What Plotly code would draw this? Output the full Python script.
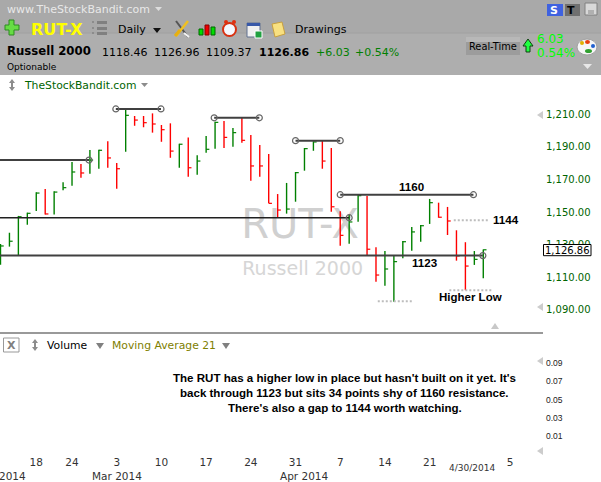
import plotly.graph_objects as go

W, H = 601, 482

# ---- data ----
highs = [1130.4,1137.3,1147.6,1149.6,1162.1,1164.1,1162.7,1168.2,1180.6,1179.4,1188.0,1188.1,1193.3,1180.0,1212.9,1208.8,1208.8,1210.4,1203.3,1204.3,1191.8,1195.7,1184.7,1196.5,1205.3,1205.7,1201.4,1207.7,1197.1,1191.0,1185.5,1161.0,1167.8,1174.5,1189.2,1193.3,1194.1,1189.2,1150.4,1148.2,1160.4,1159.8,1128.4,1126.1,1123.3,1132.2,1140.8,1142.0,1158.0,1155.7,1153.1,1138.8,1131.5,1126.1,1126.96]
lows = [1117.7,1128.8,1123.5,1142.2,1150.6,1148.4,1148.4,1163.3,1166.1,1171.0,1173.5,1176.5,1177.1,1164.3,1186.9,1202.8,1201.9,1198.6,1193.0,1183.2,1177.1,1171.6,1172.8,1186.3,1188.8,1189.2,1190.0,1192.4,1169.2,1171.6,1155.3,1146.8,1149.0,1156.3,1175.3,1187.5,1176.5,1150.2,1129.4,1130.6,1144.1,1123.5,1107.3,1104.9,1095.1,1121.7,1126.3,1131.8,1142.7,1146.5,1135.9,1120.2,1102.1,1117.6,1109.37]
closes = [1129.2,1132.1,1147.1,1149.2,1161.6,1148.8,1162.2,1164.9,1174.5,1173.9,1181.8,1187.8,1183.1,1176.5,1209.2,1206.3,1204.7,1203.9,1200.4,1187.3,1191.5,1177.1,1181.2,1188.4,1204.9,1195.7,1198.6,1193.9,1178.2,1178.2,1155.3,1151.2,1151.8,1174.1,1188.8,1192.9,1181.2,1153.2,1135.7,1143.9,1160.0,1127.2,1111.4,1115.1,1119.6,1131.8,1137.8,1141.6,1155.7,1146.8,1144.5,1123.1,1116.9,1121.0,1126.86]
direction = "GGGGGRGGGRGGRRGRRRRRGRGGGRGRRRRRGGGGRRRGGRRGGGGGGRRRRGG"

price_ticks = [1210, 1190, 1170, 1150, 1130, 1110, 1090]
volume_ticks = [0.09, 0.07, 0.05, 0.03, 0.01]
date_tick_pos = [4, 8, 13, 18, 23, 28, 33, 38, 43, 48, 57]
date_tick_txt = ["18", "24", "3", "10", "17", "24", "31", "7", "14", "21", "5"]
month_pos = [13, 34]
month_txt = ["Mar 2014", "Apr 2014"]

# level drawings: start bar, end bar, price
hold_lines = [(-1, 9.9, 1181.8), (12.9, 17.95, 1213.1), (23.9, 28.95, 1207.7),
              (33.0, 38.0, 1193.7), (38.0, 52.9, 1160.6), (-1, 53.95, 1123.3)]
thin_line = (-1, 39.0, 1146.5)
dot_lines = [(42.2, 46.1, 1095.3), (50.7, 54.6, 1144.9), (50.2, 55.0, 1102.1)]
circle_starts = [12.9, 23.9, 33.0, 38.0]
circle_ends = [9.9, 17.95, 28.95, 38.0, 52.9, 39.0, 53.95]
circle_end_lvls = [1181.8, 1213.1, 1207.7, 1193.7, 1160.6, 1146.5, 1123.3]
circle_start_lvls = [1213.1, 1207.7, 1193.7, 1160.6]

BODY = "DejaVu Sans"
ARIAL = "Liberation Sans"

def X(p): return p / W
def Y(p): return 1 - p / H

fig = go.Figure()

# watermark, under the bars
fig.add_trace(go.Scatter(x=[33.5], y=[1140.2], mode="text", text=["RUT-X"], xaxis="x", yaxis="y",
                         textfont=dict(family=BODY, size=40, color="#d0d0d0"), textposition="middle center", hoverinfo="skip"))
fig.add_trace(go.Scatter(x=[33.8], y=[1114.5], mode="text", text=["Russell 2000"], xaxis="x", yaxis="y",
                         textfont=dict(family=BODY, size=19, color="#d6d6d6"), textposition="middle center", hoverinfo="skip"))

# HLC bars
for code, col in (("G", "#008000"), ("R", "#ff0000")):
    idx = [i for i, d in enumerate(direction) if d == code]
    fig.add_trace(go.Scatter(
        x=idx, y=[closes[i] for i in idx], mode="markers", marker=dict(size=1, color=col, opacity=0),
        error_y=dict(type="data", symmetric=False, array=[highs[i] - closes[i] for i in idx],
                     arrayminus=[closes[i] - lows[i] for i in idx], color=col, thickness=1.4, width=0),
        error_x=dict(type="data", symmetric=False, array=[0.36] * len(idx), arrayminus=[0] * len(idx),
                     color=col, thickness=1.2, width=0),
        hoverinfo="skip"))

# levels
for a, b, v in hold_lines:
    fig.add_trace(go.Scatter(x=[a, b], y=[v, v], mode="lines", line=dict(color="#404040", width=2), hoverinfo="skip"))
a, b, v = thin_line
fig.add_trace(go.Scatter(x=[a, b], y=[v, v], mode="lines", line=dict(color="#202020", width=1.4), hoverinfo="skip"))
for a, b, v in dot_lines:
    fig.add_trace(go.Scatter(x=[a, b], y=[v, v], mode="lines", line=dict(color="#bdbdbd", width=2, dash="2px 2px"), hoverinfo="skip"))
fig.add_trace(go.Scatter(x=circle_starts + circle_ends, y=circle_start_lvls + circle_end_lvls, mode="markers",
                         marker=dict(symbol="circle-open", size=6, color="#666666", line=dict(width=1.2, color="#666666")),
                         hoverinfo="skip"))
# empty volume pane
fig.add_trace(go.Scatter(x=[], y=[], xaxis="x2", yaxis="y2", mode="lines", hoverinfo="skip"))

shapes = []
def rect(x0, y0, x1, y1, fill, line=None, w=1):
    shapes.append(dict(type="rect", xref="paper", yref="paper", x0=X(x0), x1=X(x1), y0=Y(y0), y1=Y(y1),
                       fillcolor=fill, line=dict(color=line or fill, width=w if line else 0), layer="above"))
def poly(pts, fill, line=None, w=1):
    d = "M " + " L ".join(f"{X(a):.5f} {Y(b):.5f}" for a, b in pts) + " Z"
    shapes.append(dict(type="path", xref="paper", yref="paper", path=d, fillcolor=fill,
                       line=dict(color=line or fill, width=w if line else 0), layer="above"))
def seg(x0, y0, x1, y1, col, w=1):
    shapes.append(dict(type="line", xref="paper", yref="paper", x0=X(x0), x1=X(x1), y0=Y(y0), y1=Y(y1),
                       line=dict(color=col, width=w), layer="above"))
def oval(x0, y0, x1, y1, fill, line=None, w=1):
    shapes.append(dict(type="circle", xref="paper", yref="paper", x0=X(x0), x1=X(x1), y0=Y(y0), y1=Y(y1),
                       fillcolor=fill, line=dict(color=line or fill, width=w if line else 0), layer="above"))

# header band
rect(0, 0, W, 33, "#a9a9a9")
rect(0, 33, W, 75, "#aeaeae")
seg(0, 33, W, 33, "#a0a0a0", 1)
# plus icon
poly([(9,20),(14,20),(14,25),(19,25),(19,30),(14,30),(14,35),(9,35),(9,30),(5,30),(5,25),(9,25)], "#66dd44", "#2e8b22")
# list icon
for yy in (23, 29, 34):
    rect(92, yy-2, 94, yy, "#8c8c8c")
    rect(97, yy-2, 107, yy+1, "#808080")
# dropdown triangles
poly([(153,28),(161,28),(157,33)], "#111111")
poly([(155,7),(162,7),(158.5,11)], "#dddddd")
poly([(141,83),(148,83),(144.5,87)], "#8c8c8c")
poly([(96,343),(104,343),(100,349)], "#808080")
poly([(222,343),(230,343),(226,349)], "#808080")
# tools icon
seg(176,21,188,37,"#555555",2)
seg(188,21,176,36,"#f0c020",2.5)
seg(175,36,180,30,"#e8b010",3)
seg(184,33,189,37,"#f4f4f4",2)
# bars icon
rect(199,29,203,35,"#00dd00","#006600")
rect(205,25,209,35,"#ee0000","#880000")
rect(211,27,215,35,"#00dd00","#006600")
# clock
oval(223,23,236,36,"#f4f8ff","#d83010",2)
oval(224,20,228,24,"#e03010")
oval(232,20,236,24,"#e03010")
# calendar
rect(247,23,260,37,"#f0f0f0","#607090")
rect(247,23,260,26,"#3858a8")
rect(255,31,262,38,"#20a040","#ffffff")
# note
poly([(272,24),(282,22),(285,34),(275,37)], "#f8e080", "#c8a040")
# S / T / save
rect(547,4,563,16,"#3f62e0")
rect(565,4,580,16,"#707070")
rect(585,3,597,15,"#d8d8d8","#808080")
rect(588,10,594,15,"#b0b0b0")
# Real-time button
rect(466,37,520,55,"#9c9c9c")
rect(466,37,520,42,"#b8b8b8")
# arrow
poly([(528,39),(533,46),(530,46),(530,52),(526,52),(526,46),(523,46)], "#20ff40", "#104010")
# palette
oval(577,39,597,55,"#f6f6f6","#a0a0a0")
oval(580,41,584,45,"#e0b000")
oval(585,40,590,44,"#e84010")
oval(591,44,595,48,"#2060d0")
oval(585,49,592,53,"#30a030")
poly([(583,64),(592,64),(587.5,69)], "#e8e8e8")
# small gray triangles on the chart frame
poly([(491,329),(499,329),(495,323)], "#c8c8c8")
poly([(543,111),(543,119),(537,115)], "#cccccc")
poly([(543,303),(543,311),(537,307)], "#cccccc")
poly([(543,357),(543,365),(537,361)], "#cccccc")
poly([(543,447),(543,455),(537,451)], "#cccccc")
# updown icons
poly([(12,79),(15,83),(9,83)], "#8c8c8c"); poly([(12,91),(15,87),(9,87)], "#8c8c8c"); rect(11,83,13,87,"#8c8c8c")
poly([(35,339),(38,343),(32,343)], "#8c8c8c"); poly([(35,351),(38,347),(32,347)], "#8c8c8c"); rect(34,343,36,347,"#8c8c8c")
# X box
rect(3.5,338,19,352,"#ffffff","#999999")
# pane divider
seg(0,333,543,333,"#777777",1.3)
# last-price box
rect(543.5,244.5,591,255.7,"#ffffff","#000000")

anns = []
def T(text, x, y, size, color="#000000", font=BODY, anchor="left", bold=False):
    anns.append(dict(text=f"<b>{text}</b>" if bold else text, xref="paper", yref="paper", x=X(x), y=Y(y),
                     xanchor=anchor, yanchor="middle", showarrow=False,
                     font=dict(family=font, size=size, color=color), borderpad=0))

T("www.TheStockBandit.com", 6, 9, 11, "#e8e8e8")
T("RUT-X", 30, 29, 16, "#ffff00", bold=True)
T("Daily", 117, 29, 11)
T("Drawings", 294, 29, 11)
T("Russell 2000", 6, 51, 11.7, bold=True)
T("1118.46", 101, 52, 11)
T("1126.96", 153, 52, 11)
T("1109.37", 205, 52, 11)
T("1126.86", 258, 52, 11, bold=True)
T("+6.03", 315, 52, 11, "#008000")
T("+0.54%", 354, 52, 11, "#008000")
T("Optionable", 6, 67, 9)
T("Real-Time", 493, 46, 9.8, anchor="center")
T("6.03", 536, 39, 12, "#00ff00")
T("0.54%", 536, 53, 12, "#00ff00")
T("S", 554, 10, 11, "#ffffff", bold=True, anchor="center")
T("T", 571, 10, 11, "#000000", bold=True, anchor="center")
T("TheStockBandit.com", 23, 85, 10.8, "#006400")
T("X", 11.2, 345, 11, "#808080", bold=True, anchor="center")
T("Volume", 46, 345, 10.8)
T("Moving Average 21", 111, 345, 10.8, "#808000")
T("1160", 411.5, 187, 11.6, font=ARIAL, bold=True, anchor="center")
T("1144", 506, 220, 11.6, font=ARIAL, bold=True, anchor="center")
T("1123", 424.7, 262.7, 11.6, font=ARIAL, bold=True, anchor="center")
T("Higher Low", 470, 297, 11.5, font=ARIAL, bold=True, anchor="center")
T("The RUT has a higher low in place but hasn't built on it yet. It's", 344.5, 378, 11.56, font=ARIAL, bold=True, anchor="center")
T("back through 1123 but sits 34 points shy of 1160 resistance.", 344.5, 392.6, 11.56, font=ARIAL, bold=True, anchor="center")
T("There's also a gap to 1144 worth watching.", 344.5, 408, 11.56, font=ARIAL, bold=True, anchor="center")
T("4/30/2014", 472, 468, 9, "#333333", anchor="center")
T("2014", 12.5, 475.5, 10.5, "#333333", anchor="center")
for p, t in zip(month_pos, month_txt):
    T(t, 0.5 + p * 8.94, 475.5, 10.5, "#333333", anchor="center")
T("1,126.86", 567.3, 250, 10, "#000000", anchor="center")

x_range = [-0.056, 60.68]
fig.update_layout(
    width=W, height=H, margin=dict(l=0, r=0, t=0, b=0), showlegend=False,
    paper_bgcolor="#ffffff", plot_bgcolor="#ffffff", shapes=shapes, annotations=anns,
    xaxis=dict(domain=[0, 543 / W], range=x_range, showgrid=False, zeroline=False, showticklabels=False, ticks="", anchor="y"),
    yaxis=dict(domain=[1 - 333 / H, 1 - 75 / H], range=[1075.9, 1233.9], side="right", showgrid=False, zeroline=False,
               tickvals=price_ticks, tickformat=",.2f", anchor="x", ticks="", showline=False, ticklabelstandoff=2,
               tickfont=dict(family=BODY, size=10, color="#006400")),
    xaxis2=dict(domain=[0, 543 / W], range=x_range, showgrid=False, zeroline=False, anchor="y2", ticks="", side="bottom",
                tickvals=date_tick_pos, ticktext=date_tick_txt, tickangle=0, tickfont=dict(family=BODY, size=10.5, color="#333333")),
    yaxis2=dict(domain=[1 - 454 / H, 1 - 333 / H], range=[-0.0097, 0.1229], side="right", showgrid=False, zeroline=False,
                tickvals=volume_ticks, tickformat=".2f", anchor="x2", ticks="", showline=False, ticklabelstandoff=2,
                tickfont=dict(family=ARIAL, size=8.5, color="#222222")),
)
fig.write_html("out.html", config=dict(displayModeBar=False),
               post_script="document.body.style.margin='0';document.body.style.overflow='hidden';")
